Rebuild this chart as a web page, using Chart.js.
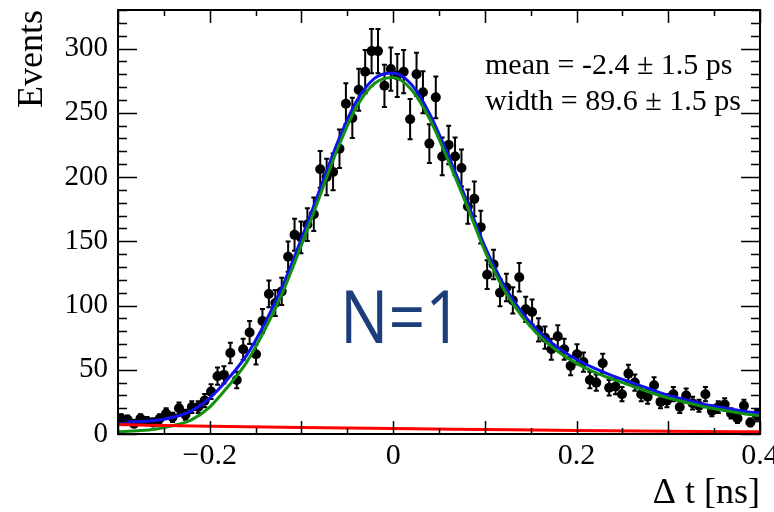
<!DOCTYPE html>
<html>
<head>
<meta charset="utf-8">
<script src="https://cdn.jsdelivr.net/npm/chart.js@4.4.0/dist/chart.umd.min.js"></script>
<style>
  html, body { margin: 0; padding: 0; background: #fff; }
</style>
</head>
<body>
<canvas id="myChart" width="774" height="512"></canvas>
<script>
const ctx = document.getElementById('myChart');

// histogram binning: 100 bins over [-0.3, 0.4] ns
const binLow = -0.3;
const binWidth = 0.007;
const counts = [
	12, 11, 8, 12, 10, 9, 12, 16, 13, 20,
	15, 21, 21, 26, 33, 45, 46, 63, 42, 66,
	79, 62, 88, 109, 102, 111, 138, 155, 153, 163,
	171, 206, 200, 204, 222, 257, 246, 268, 282, 298,
	298, 271, 284, 279, 282, 245, 280, 266, 226, 262,
	216, 225, 216, 207, 177, 183, 161, 124, 132, 110,
	114, 104, 122, 97, 95, 81, 75, 66, 76, 66,
	53, 62, 56, 42, 40, 55, 36, 37, 31, 47,
	40, 31, 29, 38, 25, 26, 31, 21, 30, 24,
	22, 31, 18, 21, 23, 16, 12, 22, 9, 15,
];

// fit curves
const curveX = [
	-0.30, -0.28, -0.26, -0.24, -0.22, -0.20, -0.18, -0.16, -0.14, -0.12,
	-0.10, -0.08, -0.06, -0.04, -0.02, 0.00, 0.02, 0.04, 0.06, 0.08,
	0.10, 0.12, 0.14, 0.16, 0.18, 0.20, 0.22, 0.24, 0.26, 0.28,
	0.30, 0.32, 0.34, 0.36, 0.38, 0.40,
];
const totalFit = [
	9, 9.5, 10.5, 13, 18, 28, 43, 61, 86, 116,
	152, 190, 228, 259, 277, 281, 272, 249, 217, 182,
	146, 117, 95, 79, 67, 58, 51, 45, 40, 35,
	30, 26.5, 23, 20.5, 18, 16,
];
const signalFit = [
	1.7, 2.5, 3.7, 6.5, 11, 21, 37, 55.5, 81, 111,
	147, 185, 223, 254.5, 273, 277.5, 268, 245, 213, 178.5,
	142.5, 113.5, 92, 76, 64, 55, 48, 42.5, 37.5, 32.5,
	28, 24.5, 21, 18.5, 16, 14.3,
];
const bkgX = [-0.3, -0.2, -0.1, 0.0, 0.1, 0.2, 0.3, 0.4];
const bkgFit = [7.3, 6.1, 5.1, 4.2, 3.5, 2.8, 2.2, 1.7];

const xLabelled = [-0.2, 0, 0.2, 0.4];
const xTickText = ['\u22120.2', '0', '0.2', '0.4'];
const fitText = ['mean = -2.4 \u00b1 1.5 ps', 'width = 89.6 \u00b1 1.5 ps'];
const bigLabel = 'N=1';

const serif = 'Liberation Serif';

const pts = counts.map((c, i) => ({ x: binLow + binWidth * (i + 0.5), y: c }));
const toXY = (xs, ys) => xs.map((x, i) => ({ x: x, y: ys[i] }));

const errorBars = {
	id: 'errorBars',
	afterDatasetDraw(chart, args) {
		if (args.index !== 0) return;
		const { ctx, chartArea: a, scales: { y } } = chart;
		ctx.save();
		ctx.beginPath();
		ctx.rect(a.left, a.top, a.right - a.left, a.bottom - a.top);
		ctx.clip();
		ctx.strokeStyle = '#000';
		ctx.lineWidth = 2;
		ctx.beginPath();
		args.meta.data.forEach((p, i) => {
			const e = Math.sqrt(counts[i]);
			const t = y.getPixelForValue(counts[i] + e);
			const b = y.getPixelForValue(counts[i] - e);
			ctx.moveTo(p.x, t); ctx.lineTo(p.x, b);
			ctx.moveTo(p.x - 2.5, t); ctx.lineTo(p.x + 2.5, t);
			ctx.moveTo(p.x - 2.5, b); ctx.lineTo(p.x + 2.5, b);
		});
		ctx.stroke();
		ctx.restore();
	},
};

const rootFrame = {
	id: 'rootFrame',
	afterDatasetsDraw(chart) {
		const { ctx, chartArea: a, scales: { x, y } } = chart;
		ctx.save();
		ctx.strokeStyle = '#000';
		ctx.lineWidth = 1.5;
		ctx.beginPath();
		for (let v = 0; v <= y.max; v += 10) {
			const py = Math.round(y.getPixelForValue(v)) + 0.5;
			const len = v % 50 === 0 ? 19 : 9;
			ctx.moveTo(a.left, py); ctx.lineTo(a.left + len, py);
			ctx.moveTo(a.right, py); ctx.lineTo(a.right - len, py);
		}
		for (let k = -6; k <= 8; k++) {
			const px = Math.round(x.getPixelForValue(k * 0.05)) + 0.5;
			const len = k % 2 === 0 ? 13 : 6;
			ctx.moveTo(px, a.bottom); ctx.lineTo(px, a.bottom - len);
			ctx.moveTo(px, a.top); ctx.lineTo(px, a.top + len);
		}
		ctx.stroke();
		ctx.lineWidth = 2;
		ctx.strokeRect(a.left, a.top, a.right - a.left, a.bottom - a.top);
		ctx.restore();
	},
	afterDraw(chart) {
		const { ctx } = chart;
		ctx.save();
		ctx.fillStyle = '#000';
		ctx.font = '30px "' + serif + '"';
		ctx.textBaseline = 'alphabetic';
		ctx.fillText(fitText[0], 485, 74);
		ctx.fillText(fitText[1], 485, 110);

		ctx.font = '74px "Open Sans"';
		ctx.fillStyle = '#1c3f7c';
		const w = ctx.measureText(bigLabel).width;
		ctx.translate(340, 343);
		ctx.scale(122 / w, 1);
		ctx.fillText(bigLabel, 0, 0);
		ctx.restore();
	},
};

new Chart(ctx, {
	type: 'scatter',
	data: {
		datasets: [
			{
				data: pts,
				pointRadius: 5,
				pointBackgroundColor: '#000',
				pointBorderWidth: 0,
				showLine: false,
				order: 4,
			},
			{
				type: 'line',
				data: toXY(curveX, totalFit),
				borderColor: '#1010f0',
				borderWidth: 3,
				pointRadius: 0,
				cubicInterpolationMode: 'monotone',
				order: 3,
			},
			{
				type: 'line',
				data: toXY(curveX, signalFit),
				borderColor: '#119011',
				borderWidth: 3,
				pointRadius: 0,
				cubicInterpolationMode: 'monotone',
				order: 2,
			},
			{
				type: 'line',
				data: toXY(bkgX, bkgFit),
				borderColor: '#ff0000',
				borderWidth: 3,
				pointRadius: 0,
				cubicInterpolationMode: 'monotone',
				order: 1,
			},
		],
	},
	options: {
		responsive: false,
		animation: false,
		layout: { padding: { top: 10, right: 14, left: 0, bottom: 0 } },
		plugins: {
			legend: { display: false },
			tooltip: { enabled: false },
		},
		scales: {
			x: {
				type: 'linear',
				min: -0.3,
				max: 0.4,
				grid: { display: false, drawTicks: false },
				border: { display: false },
				ticks: {
					stepSize: 0.1,
					autoSkip: false,
					maxRotation: 0,
					padding: 4,
					color: '#000',
					font: { family: serif, size: 30 },
					callback: (v) => {
						const k = xLabelled.findIndex((t) => Math.abs(t - v) < 1e-6);
						return k < 0 ? '' : xTickText[k];
					},
				},
				title: {
					display: true,
					text: '\u0394 t [ns]',
					align: 'end',
					color: '#000',
					font: { family: serif, size: 36, lineHeight: 1 },
					padding: { top: 0, bottom: 0 },
				},
				afterFit: (s) => {
					s.height = 78;
					s.paddingLeft = 0;
					s.paddingRight = 0;
				},
			},
			y: {
				min: 0,
				max: 330,
				grid: { display: false, drawTicks: false },
				border: { display: false },
				ticks: {
					stepSize: 50,
					padding: 10,
					color: '#000',
					font: { family: serif, size: 29 },
					callback: (v) => (v % 50 === 0 ? v : ''),
				},
				title: {
					display: true,
					text: 'Events',
					align: 'end',
					color: '#000',
					font: { family: serif, size: 36, lineHeight: 1 },
					padding: { top: 15, bottom: 0 },
				},
				afterFit: (s) => {
					s.width = 118;
					s.paddingTop = 0;
					s.paddingBottom = 0;
				},
			},
		},
	},
	plugins: [errorBars, rootFrame],
});
</script>
</body>
</html>
